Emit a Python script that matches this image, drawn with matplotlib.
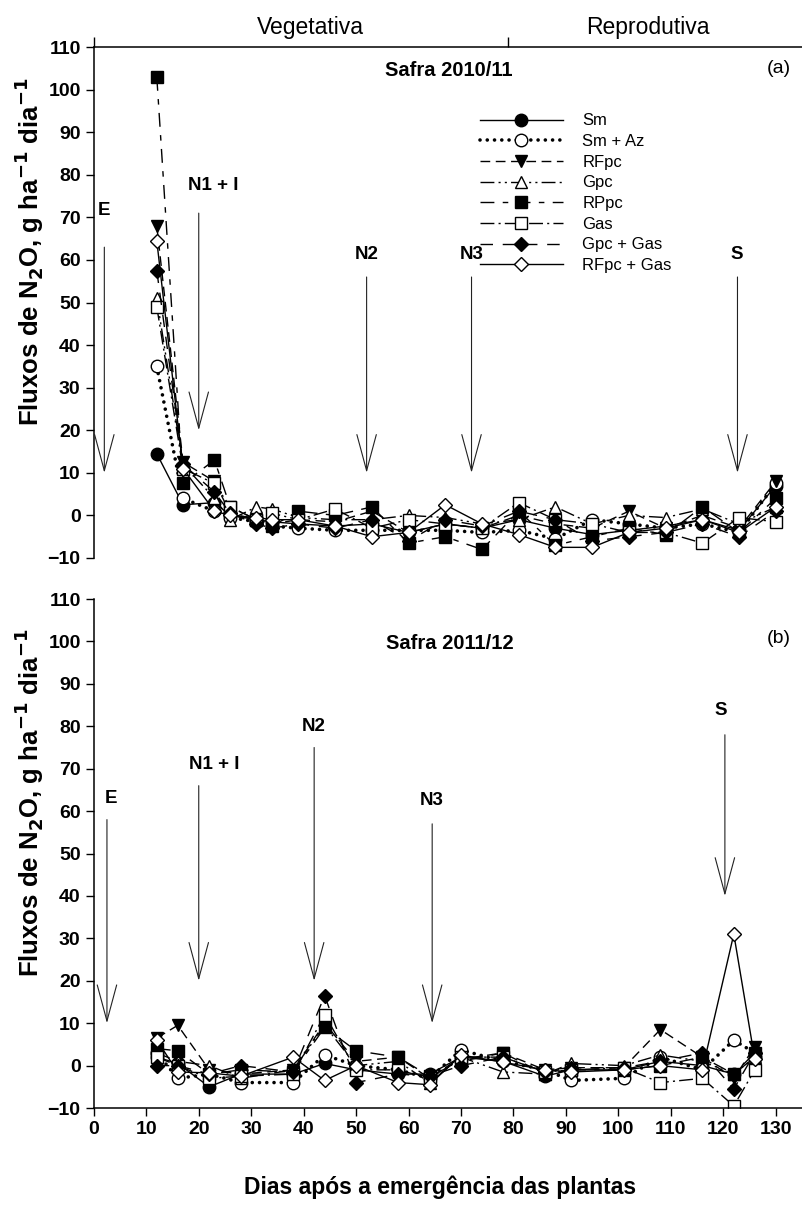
import numpy as np
import matplotlib
matplotlib.use("Agg")
import matplotlib.pyplot as plt

plt.rcParams['font.family'] = ['Liberation Sans', 'DejaVu Sans']

# Safra 2010/11 - dias de coleta e fluxos (g N2O ha-1 dia-1)
dias_a = [12, 17, 23, 26, 31, 34, 39, 46, 53, 60, 67, 74, 81, 88, 95, 102, 109, 116, 123, 130]
sm_a = [14.5, 2.5, 3, 0, -1, -1.5, -2, -2.5, -2, -4, -2, -3, -1, -3, -4.5, -3.5, -2.5, -1, -3.5, 7]
smaz_a = [35, 4, 1, -0.5, -1.5, -2.5, -3, -3.5, -3.5, -3.5, -3.5, -4, -3.5, -5.5, -1, -2, -3, -2, -4, 7.5]
rfpc_a = [68, 12.5, 8, 0.5, -1, -2, -1, -1.5, 1, -4, -2, -3, 0, -2, -3, 1, -3, 0, -3, 8]
gpc_a = [51, 12, 4, -1, 2, 1.5, -0.5, -1, -1, 0, -0.5, -2, -1, 2, -2, 0, -0.5, 1.5, -2, 2]
rppc_a = [103, 7.5, 13, 2, -1, -2.5, 1, 0, 2, -6.5, -5, -8, 1, -7, -5, -3, -4.5, 2, -4, 4]
gas_a = [49, 11, 7.5, 2, -1, 0.5, -1, 1.5, -3, -1, -2, -3, 3, -1, -2, -4, -4, -6.5, -0.5, -1.5]
gpcgas_a = [57.5, 12, 5.5, 0.5, -2, -3, -2, -3, -1, -6, -1, -2.5, 1, -1, -6, -5, -4, -2, -5, 1]
rfpcgas_a = [64.5, 11, 1, 0, -0.5, -1, -1, -2.5, -5, -4, 2.5, -2, -4.5, -7.5, -7.5, -4, -3, -1, -4, 2]

# Safra 2011/12
dias_b = [12, 16, 22, 28, 38, 44, 50, 58, 64, 70, 78, 86, 91, 101, 108, 116, 122, 126]
sm_b = [2, 0.5, -5, -2, -2, 0.5, -1, -2, -2, 2, 1, -2.5, -1, -1, 1, 0, -2, 2]
smaz_b = [3, -3, -2, -4, -4, 2.5, 0, -1, -3, 3.7, 1, -1, -3.5, -3, 2, -1, 6, 3]
rfpc_b = [6.5, 9.5, -1, -2, -1, 10, 1, 2, -3, 1.5, 3, -1, -0.5, -0.5, 8.5, 2, -3, 4.5]
gpc_b = [3, 1, 0, -3, -1, 9.5, 0, 1, -4, 2, -1.5, -2, 0.5, 0, 2.5, 1, -2, 2]
rppc_b = [4, 3.5, -2, -1, -1.5, 9, 3.5, 2, -2.5, 1, 3, -2, -1, -1, 0, 2, -2, 3]
gas_b = [2, 0, -3, -2.5, -2, 12, -1, -1, -3, 2, 2, -1.5, -1, -0.5, -4, -3, -9.5, -1]
gpcgas_b = [0, 0, -2, 0, -1.5, 16.5, -4, -2, -2.5, 0, 2, -1.5, -0.5, -0.5, 1, 3, -5.5, 3]
rfpcgas_b = [6, -1.5, -1.7, -2.5, 2, -3.5, 0, -4, -4.5, 2.5, 0.8, -1, -1.5, -1, 0, -1, 31, 1.5]

tratamentos = ['Sm', 'Sm + Az', 'RFpc', 'Gpc', 'RPpc', 'Gas', 'Gpc + Gas', 'RFpc + Gas']
series_a = [sm_a, smaz_a, rfpc_a, gpc_a, rppc_a, gas_a, gpcgas_a, rfpcgas_a]
series_b = [sm_b, smaz_b, rfpc_b, gpc_b, rppc_b, gas_b, gpcgas_b, rfpcgas_b]

# manejo: (rotulo, dia, topo da seta, ponta da seta, x do texto, y do texto)
eventos_a = [('E', 2, 63, 10, 2, 71.5),
             ('N1 + I', 20, 71, 20, 22.7, 77.5),
             ('N2', 52, 56, 10, 52, 61.3),
             ('N3', 72, 56, 10, 72, 61.3),
             ('S', 122.7, 56, 10, 122.5, 61.3)]
eventos_b = [('E', 2.5, 58, 10, 3.3, 63),
             ('N1 + I', 20, 66, 20, 23, 71),
             ('N2', 42, 75, 20, 42, 80),
             ('N3', 64.5, 57, 10, 64.5, 62.4),
             ('S', 120.3, 78, 40, 119.5, 83.7)]

estilos = [
    dict(marker='o', mfc='k', ls='-'),
    dict(marker='o', mfc='w', ls=(0, (0.01, 2.0)), lw=2.6, dash_capstyle='round'),
    dict(marker='v', mfc='k', ls=(0, (7, 4))),
    dict(marker='^', mfc='w', ls=(0, (10, 3, 1.5, 3, 1.5, 3))),
    dict(marker='s', mfc='k', ls=(0, (10, 6, 4, 6))),
    dict(marker='s', mfc='w', ls=(0, (10, 3, 1.5, 3))),
    dict(marker='D', mfc='k', ls=(0, (9, 7))),
    dict(marker='D', mfc='w', ls='-'),
]


def desenha(ax, dias, series, eventos):
    for nome, y, est in zip(tratamentos, series, estilos):
        kw = dict(color='k', mec='k', mew=1.0, lw=1.0,
                  ms=7.5 if est['marker'] == 'D' else 9)
        kw.update(est)
        ax.plot(dias, y, label=nome, **kw)
    for rot, d, topo, ponta, xt, yt in eventos:
        ax.annotate('', xy=(d, ponta), xytext=(d, topo),
                    arrowprops=dict(arrowstyle='->,head_length=2.6,head_width=0.7',
                                    lw=0.8, color='#222222', shrinkA=0, shrinkB=0))
        ax.text(xt, yt, rot, ha='center', va='center', fontsize=13.5, fontweight='bold')
    ax.set_xlim(0, 135)
    ax.set_ylim(-10, 110)
    ax.set_yticks(np.arange(-10, 111, 10))
    ax.set_xticks(np.arange(0, 131, 10))
    ax.spines['right'].set_visible(False)
    ax.spines['left'].set_linewidth(1.1)
    ax.tick_params(direction='out', length=6, width=1, labelsize=14)
    for t in ax.get_yticklabels() + ax.get_xticklabels():
        t.set_fontweight('bold')
    ax.set_ylabel('Fluxos de N$_\\mathbf{2}$O, g ha$^\\mathbf{-1}$ dia$^\\mathbf{-1}$',
                  fontsize=18.5, fontweight='bold')
    ax.yaxis.set_label_coords(-0.067, 0.6)


fig = plt.figure(figsize=(8.02, 12.07), dpi=100)
ax1 = fig.add_axes([0.117, 0.5377, 0.883, 0.4233])
ax2 = fig.add_axes([0.117, 0.082, 0.883, 0.4217])

desenha(ax1, dias_a, series_a, eventos_a)
desenha(ax2, dias_b, series_b, eventos_b)

# painel superior: sem eixo inferior, eixo superior com divisao das fases
ax1.spines['bottom'].set_visible(False)
ax1.tick_params(bottom=False, labelbottom=False)
ax1.spines['top'].set_visible(False)
sec = ax1.secondary_xaxis('top')
sec.set_xticks([0, 79])
sec.set_xticklabels([])
sec.tick_params(direction='out', length=7, width=1)
sec.spines['top'].set_linewidth(1.1)

ax2.spines['top'].set_visible(False)
ax2.spines['bottom'].set_linewidth(1.1)

ax1.text(67.6, 104.5, 'Safra 2010/11', ha='center', va='center', fontsize=14.5, fontweight='bold')
ax1.text(130.5, 105, '(a)', ha='center', va='center', fontsize=14)
ax2.text(67.8, 99.5, 'Safra 2011/12', ha='center', va='center', fontsize=14.5, fontweight='bold')
ax2.text(130.5, 100.7, '(b)', ha='center', va='center', fontsize=14)

fig.text(0.387, 0.977, 'Vegetativa', ha='center', va='center', fontsize=16.5)
fig.text(0.808, 0.977, 'Reprodutiva', ha='center', va='center', fontsize=16.5)
fig.text(0.549, 0.0166, 'Dias após a emergência das plantas', ha='center', va='center',
         fontsize=16.5, fontweight='bold')

ax1.legend(loc='upper left', bbox_to_anchor=(0.545, 0.87), frameon=False, fontsize=12,
           handlelength=5.0, handletextpad=1.15, labelspacing=0.34, borderpad=0,
           borderaxespad=0)

fig.savefig('out.png', dpi=100)
